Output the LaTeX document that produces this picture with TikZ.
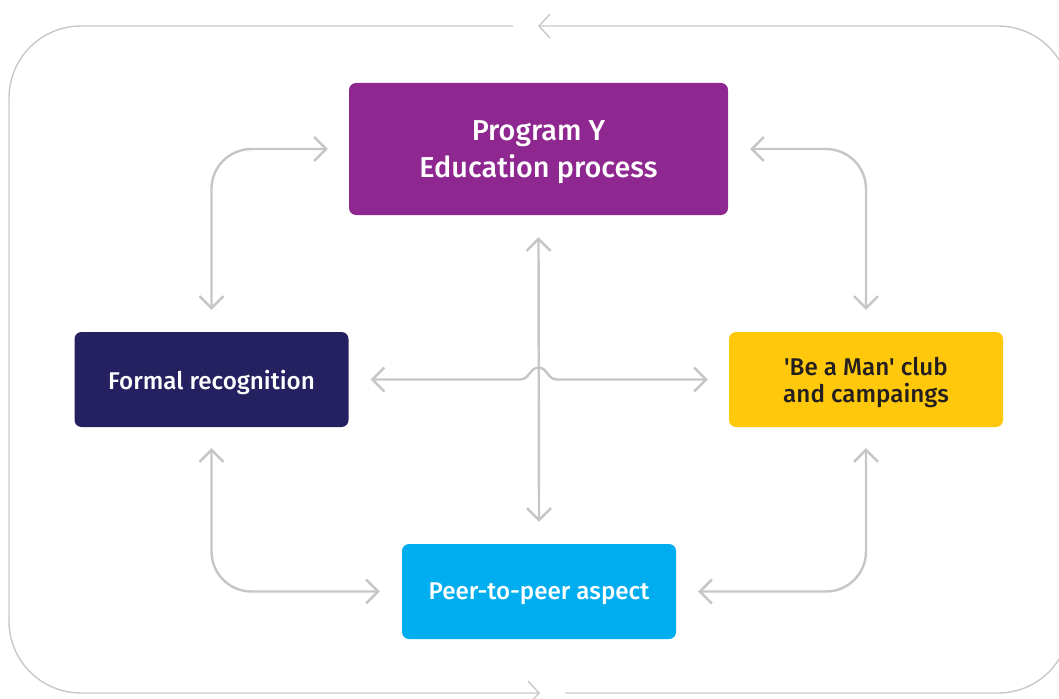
\documentclass[tikz,border=0pt]{standalone}
\usepackage{fontspec}
\setmainfont{Fira Sans}
\newfontfamily\medfont{Fira Sans Medium}
\usetikzlibrary{arrows.meta,calc}
\definecolor{cpurple}{HTML}{8E278F}
\definecolor{cnavy}{HTML}{252160}
\definecolor{cyellow}{HTML}{FFC80A}
\definecolor{ccyan}{HTML}{00AEEF}
\definecolor{cdark}{HTML}{231F20}
\definecolor{cline}{HTML}{C6C6C8}
\definecolor{couter}{HTML}{C8C8C8}
\tikzset{
  box/.style={rounded corners=7pt, minimum height=95pt, minimum width=274pt, inner sep=0pt, align=center, text depth=0pt, font=\medfont\fontsize{24.2}{27}\selectfont, text=white},
  conn/.style={draw=cline, line width=2.4pt, rounded corners=40pt, {Straight Barb[length=12pt,width=24pt]}-{Straight Barb[length=12pt,width=24pt]}},
  outer/.style={draw=couter, line width=1.4pt, rounded corners=72pt, -{Straight Barb[length=11pt,width=24pt]}}
}
\begin{document}
\begin{tikzpicture}[x=1pt,y=-1pt]
\useasboundingbox (0,0) rectangle (1059,698);
\clip (0,0) rectangle (1059,698);
% outer loop
\coordinate (oa) at (513,26);
\coordinate (ob) at (540,693);
\coordinate (oc) at (565,693);
\coordinate (od) at (538,26);
\draw[outer] (oa) -- (9,26) -- (9,693) -- (ob);
\draw[outer] (oc) -- (1070,693) -- (1070,26) -- (od);
% boxes
\node[box, fill=cpurple, minimum width=379pt, minimum height=132pt, font=\medfont\fontsize{28.8}{37}\selectfont] (py) at (538.5,149) {Program Y\\Education process};
\node[box, fill=cnavy] (fr) at (211.5,379.5) {Formal recognition};
\node[box, fill=cyellow, text=cdark] (bm) at (866,379.5) {'Be a Man' club\\and campaings};
\node[box, fill=ccyan] (ps) at (539,591.5) {Peer-to-peer aspect};
% connectors
\draw[conn] ([yshift=22pt]fr.north) |- ([xshift=-21pt]py.west);
\draw[conn] ([yshift=22pt]bm.north) |- ([xshift=22pt]py.east);
\draw[conn] ([yshift=-21pt]fr.south) |- ([xshift=-22pt]ps.west);
\draw[conn] ([yshift=-21pt]bm.south) |- ([xshift=22pt]ps.east);
\draw[conn] ([yshift=-22pt]py.south) -- ([yshift=22pt]ps.north);
\coordinate (x) at (py.south |- fr.east);
\draw[conn, rounded corners=0pt] ([xshift=22pt]fr.east) -- ([xshift=-18pt]x)
  to[out=0,in=180] ([yshift=12pt]x) to[out=0,in=180] ([xshift=18pt]x)
  -- ([xshift=-21pt]bm.west);
\end{tikzpicture}
\end{document}
